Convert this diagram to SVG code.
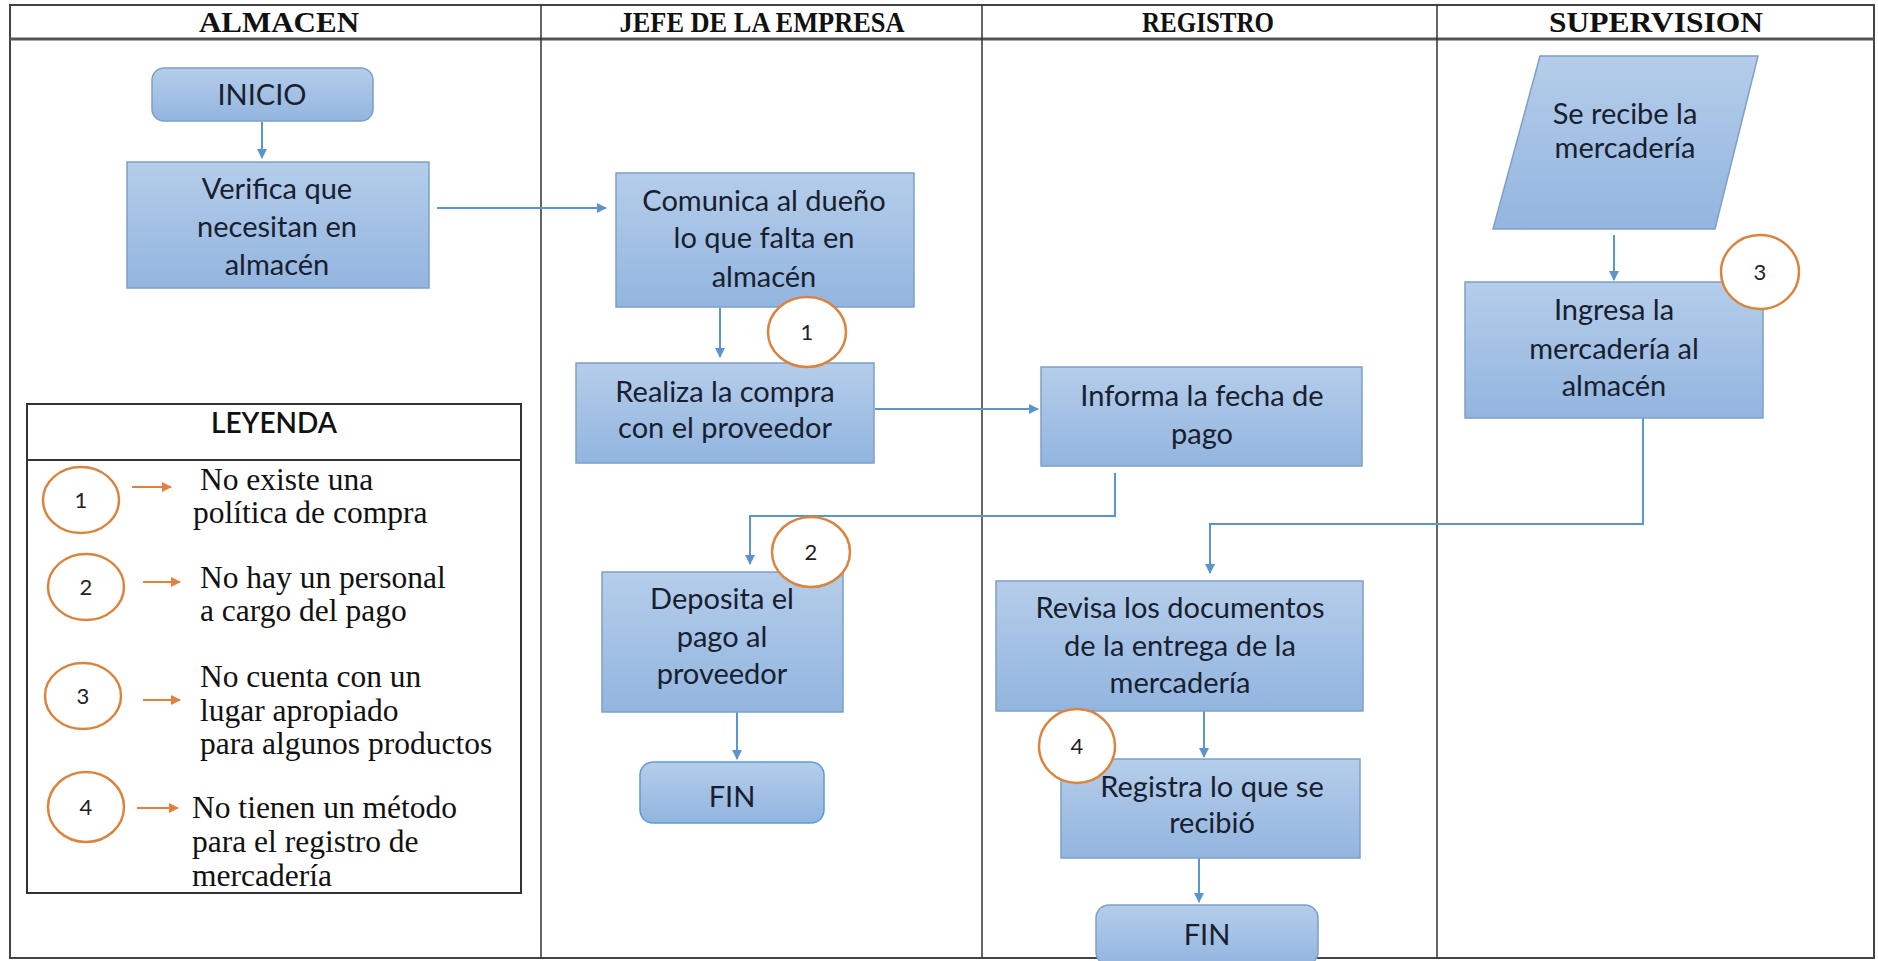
<svg xmlns="http://www.w3.org/2000/svg" width="1878" height="961" viewBox="0 0 1878 961">
<defs>
<linearGradient id="gBox" x1="0" y1="0" x2="0" y2="1">
<stop offset="0" stop-color="#b5cdea"/>
<stop offset="1" stop-color="#92b5df"/>
</linearGradient>
<marker id="arrB" viewBox="0 0 10 10" refX="9" refY="5" markerWidth="5" markerHeight="5" orient="auto" markerUnits="strokeWidth">
<path d="M0,0 L10,5 L0,10 z" fill="#5b95cc"/>
</marker>
<marker id="arrO" viewBox="0 0 10 10" refX="9" refY="5" markerWidth="5" markerHeight="5" orient="auto" markerUnits="strokeWidth">
<path d="M0,0 L10,5 L0,10 z" fill="#e0823e"/>
</marker>
</defs>
<style>
.box{fill:url(#gBox);stroke:#7f9fc7;stroke-width:1.5}
.fin{fill:url(#gBox);stroke:#5b9bd5;stroke-width:1.5}
.t{font-family:Lato,"Liberation Sans",sans-serif;font-size:29px;fill:#18202f;text-anchor:middle}
.hd{font-family:"Liberation Serif","Times New Roman",serif;font-size:30px;font-weight:bold;fill:#111;text-anchor:middle}
.lg{font-family:"Liberation Serif","Times New Roman",serif;font-size:31.5px;fill:#111}
.num{font-family:Lato,"Liberation Sans",sans-serif;font-size:22px;fill:#222;text-anchor:middle}
.circ{fill:#fff;stroke:#d9843f;stroke-width:2.5}
.con{fill:none;stroke:#5b95cc;stroke-width:2}
.ocon{fill:none;stroke:#e0823e;stroke-width:2}
.frame{fill:none;stroke:#444;stroke-width:2}
</style>
<rect width="1878" height="961" fill="#fff"/>
<g id="lanes">
<rect class="frame" x="10" y="5" width="1864" height="953"/>
<line x1="10" y1="39" x2="1874" y2="39" stroke="#555" stroke-width="3"/>
<line x1="541" y1="5" x2="541" y2="958" stroke="#333" stroke-width="1.5"/>
<line x1="982" y1="5" x2="982" y2="958" stroke="#333" stroke-width="1.5"/>
<line x1="1437" y1="5" x2="1437" y2="958" stroke="#333" stroke-width="1.5"/>
<text class="hd" x="279" y="32" textLength="160" lengthAdjust="spacingAndGlyphs">ALMACEN</text>
<text class="hd" x="762" y="32" textLength="285" lengthAdjust="spacingAndGlyphs">JEFE DE LA EMPRESA</text>
<text class="hd" x="1208" y="32" textLength="132" lengthAdjust="spacingAndGlyphs">REGISTRO</text>
<text class="hd" x="1656" y="32" textLength="214" lengthAdjust="spacingAndGlyphs">SUPERVISION</text>
</g>
<g id="connectors">
<line class="con" x1="262" y1="122" x2="262" y2="158" marker-end="url(#arrB)"/>
<line class="con" x1="437" y1="208" x2="606" y2="208" marker-end="url(#arrB)"/>
<line class="con" x1="720" y1="308" x2="720" y2="357" marker-end="url(#arrB)"/>
<line class="con" x1="875" y1="409" x2="1038" y2="409" marker-end="url(#arrB)"/>
<polyline class="con" points="1115,473 1115,516 750,516 750,564" marker-end="url(#arrB)"/>
<line class="con" x1="737" y1="712" x2="737" y2="759" marker-end="url(#arrB)"/>
<line class="con" x1="1614" y1="235" x2="1614" y2="280" marker-end="url(#arrB)"/>
<polyline class="con" points="1643,418 1643,524 1210,524 1210,573" marker-end="url(#arrB)"/>
<line class="con" x1="1204" y1="711" x2="1204" y2="757" marker-end="url(#arrB)"/>
<line class="con" x1="1199" y1="858" x2="1199" y2="902" marker-end="url(#arrB)"/>
</g>
<g id="inicio">
<rect class="box" x="152" y="68" width="221" height="53" rx="12"/>
<text class="t" x="262" y="105">INICIO</text>
</g>
<g id="verifica">
<rect class="box" x="127" y="162" width="302" height="126"/>
<text class="t" x="277" y="199">Verifica que</text>
<text class="t" x="277" y="237">necesitan en</text>
<text class="t" x="277" y="275">almacén</text>
</g>
<g id="comunica">
<rect class="box" x="616" y="173" width="298" height="134"/>
<text class="t" x="764" y="211">Comunica al dueño</text>
<text class="t" x="764" y="248">lo que falta en</text>
<text class="t" x="764" y="287">almacén</text>
</g>
<g id="realiza">
<rect class="box" x="576" y="363" width="298" height="100"/>
<text class="t" x="725" y="402">Realiza la compra</text>
<text class="t" x="725" y="438">con el proveedor</text>
</g>
<g id="c1">
<ellipse class="circ" cx="807" cy="332" rx="39" ry="35"/>
<text class="num" x="807" y="340">1</text>
</g>
<g id="informa">
<rect class="box" x="1041" y="367" width="321" height="99"/>
<text class="t" x="1202" y="406">Informa la fecha de</text>
<text class="t" x="1202" y="444">pago</text>
</g>
<g id="deposita">
<rect class="box" x="602" y="572" width="241" height="140"/>
<text class="t" x="722" y="609">Deposita el</text>
<text class="t" x="722" y="647">pago al</text>
<text class="t" x="722" y="684">proveedor</text>
</g>
<g id="c2">
<ellipse class="circ" cx="811" cy="552" rx="39" ry="35"/>
<text class="num" x="811" y="560">2</text>
</g>
<g id="fin1">
<rect class="fin" x="640" y="762" width="184" height="61" rx="13"/>
<text class="t" x="732" y="807">FIN</text>
</g>
<g id="recibe">
<polygon class="box" points="1540,56 1758,56 1715,229 1493,229"/>
<text class="t" x="1625" y="124">Se recibe la</text>
<text class="t" x="1625" y="158">mercadería</text>
</g>
<g id="ingresa">
<rect class="box" x="1465" y="282" width="298" height="136"/>
<text class="t" x="1614" y="320">Ingresa la</text>
<text class="t" x="1614" y="359">mercadería al</text>
<text class="t" x="1614" y="396">almacén</text>
</g>
<g id="c3">
<ellipse class="circ" cx="1760" cy="272" rx="39" ry="37"/>
<text class="num" x="1760" y="280">3</text>
</g>
<g id="revisa">
<rect class="box" x="996" y="581" width="367" height="130"/>
<text class="t" x="1180" y="618">Revisa los documentos</text>
<text class="t" x="1180" y="656">de la entrega de la</text>
<text class="t" x="1180" y="693">mercadería</text>
</g>
<g id="registra">
<rect class="box" x="1061" y="759" width="299" height="99"/>
<text class="t" x="1212" y="797">Registra lo que se</text>
<text class="t" x="1212" y="833">recibió</text>
</g>
<g id="c4">
<ellipse class="circ" cx="1077" cy="746" rx="38" ry="37"/>
<text class="num" x="1077" y="754">4</text>
</g>
<g id="fin2">
<rect class="box" x="1096" y="905" width="222" height="60" rx="13"/>
<text class="t" x="1207" y="945">FIN</text>
</g>
<g id="leyenda">
<rect x="27" y="404" width="494" height="489" fill="#fff" stroke="#333" stroke-width="2"/>
<line x1="27" y1="460" x2="521" y2="460" stroke="#333" stroke-width="2"/>
<text x="274" y="433" font-family="Lato,'Liberation Sans',sans-serif" font-size="28" font-weight="600" fill="#111" text-anchor="middle">LEYENDA</text>
<ellipse class="circ" cx="81" cy="500" rx="38" ry="33"/>
<text class="num" x="81" y="508">1</text>
<line class="ocon" x1="132" y1="487" x2="171" y2="487" marker-end="url(#arrO)"/>
<text class="lg" x="200" y="490">No existe una</text>
<text class="lg" x="193" y="523">política de compra</text>
<ellipse class="circ" cx="86" cy="587" rx="38" ry="33"/>
<text class="num" x="86" y="595">2</text>
<line class="ocon" x1="143" y1="582" x2="180" y2="582" marker-end="url(#arrO)"/>
<text class="lg" x="200" y="588">No hay un personal</text>
<text class="lg" x="200" y="621">a cargo del pago</text>
<ellipse class="circ" cx="83" cy="696" rx="38" ry="33"/>
<text class="num" x="83" y="704">3</text>
<line class="ocon" x1="143" y1="700" x2="180" y2="700" marker-end="url(#arrO)"/>
<text class="lg" x="200" y="687">No cuenta con un</text>
<text class="lg" x="200" y="721">lugar apropiado</text>
<text class="lg" x="200" y="754">para algunos productos</text>
<ellipse class="circ" cx="86" cy="807" rx="38" ry="35"/>
<text class="num" x="86" y="815">4</text>
<line class="ocon" x1="137" y1="808" x2="178" y2="808" marker-end="url(#arrO)"/>
<text class="lg" x="192" y="818">No tienen un método</text>
<text class="lg" x="192" y="852">para el registro de</text>
<text class="lg" x="192" y="886">mercadería</text>
</g>
</svg>
